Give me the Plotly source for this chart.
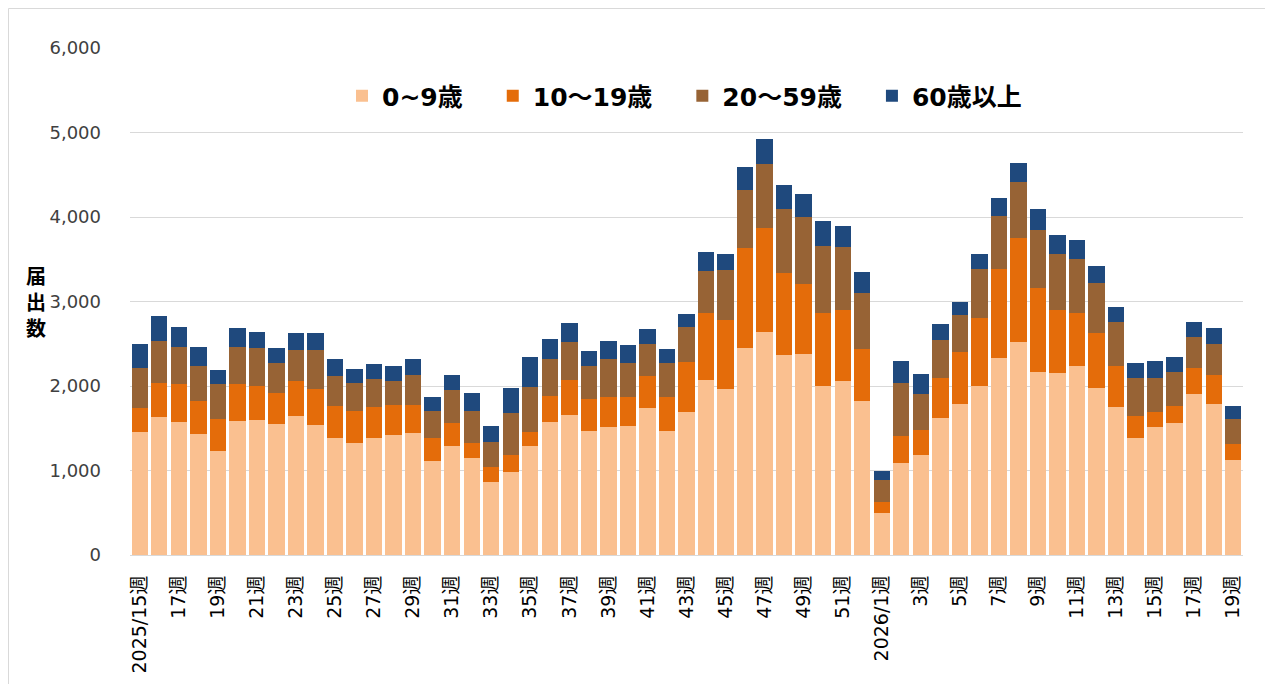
import plotly.graph_objects as go

# ---- data ----
weeks_2025 = list(range(15, 53))
weeks_2026 = list(range(1, 20))
categories = [f"2025/{w}週" for w in weeks_2025] + [f"2026/{w}週" for w in weeks_2026]

age_0_9 = [1456, 1637, 1578, 1428, 1231, 1590, 1598, 1550, 1645, 1542,
           1385, 1329, 1385, 1420, 1440, 1112, 1294, 1152, 864, 982,
           1290, 1578, 1661, 1467, 1515, 1530, 1743, 1467, 1688, 2075,
           1968, 2446, 2643, 2371, 2379, 2000, 2063, 1822,
           493, 1093, 1180, 1617, 1787, 2000, 2328, 2524, 2169, 2158,
           2240, 1980, 1755, 1385, 1511, 1566, 1905, 1783, 1121]
age_10_19 = [284, 399, 449, 394, 375, 437, 402, 367, 418, 426,
             378, 371, 366, 351, 331, 273, 264, 173, 181, 205,
             169, 307, 410, 379, 359, 344, 375, 407, 592, 793,
             813, 1187, 1223, 970, 832, 868, 833, 616,
             134, 319, 299, 478, 615, 805, 1053, 1231, 987, 738,
             628, 651, 478, 260, 181, 197, 308, 347, 196]
age_20_59 = [473, 497, 438, 418, 421, 438, 446, 351, 363, 458,
             355, 336, 332, 284, 359, 323, 395, 375, 289, 493,
             529, 435, 450, 387, 446, 402, 383, 394, 418, 493,
             592, 690, 765, 758, 785, 792, 753, 663,
             261, 624, 430, 453, 438, 576, 634, 663, 694, 670,
             631, 588, 521, 446, 399, 403, 367, 371, 289]
age_60_plus = [284, 299, 233, 218, 159, 221, 189, 178, 198, 198,
               198, 165, 177, 178, 186, 158, 173, 213, 189, 292,
               355, 236, 221, 185, 216, 205, 177, 166, 158, 225,
               186, 265, 292, 280, 272, 293, 244, 252,
               106, 264, 233, 190, 158, 178, 206, 217, 249, 217,
               225, 205, 184, 185, 205, 177, 174, 189, 157]

series_names = ["0~9歳", "10～19歳", "20～59歳", "60歳以上"]
series_values = [age_0_9, age_10_19, age_20_59, age_60_plus]
series_colors = ["#FAC090", "#E46C0A", "#976335", "#1F497D"]

year_first = {"2025/15週", "2026/1週"}
tick_vals = categories[::2]
tick_text = [c if c in year_first else c.split("/")[1] for c in tick_vals]

y_ticks = [0, 1000, 2000, 3000, 4000, 5000, 6000]
y_title = "届<br>出<br>数"

# ---- figure ----
fig = go.Figure()
pad = "\u3000"
for i, (name, vals, col) in enumerate(zip(series_names, series_values, series_colors)):
    label = name + (pad if i < len(series_names) - 1 else "")
    fig.add_trace(go.Bar(x=categories, y=vals, name=label,
                         marker=dict(color=col, line=dict(width=0))))

OFF = 8  # browser body margin
W, H = 1265, 676
L, T = 130 - OFF, 48 - OFF
R = W - (1243 - OFF)
B = H - (555 - OFF)
pw, ph = W - L - R, H - T - B


def px_x(x):
    return (x - OFF - L) / pw


def px_y(y):
    return (H - B - (y - OFF)) / ph


fig.update_layout(
    width=W, height=H,
    barmode="stack", bargap=0.16,
    plot_bgcolor="white", paper_bgcolor="white",
    margin=dict(l=L, r=R, t=T, b=B, autoexpand=False),
    font=dict(family="DejaVu Sans, Noto Sans CJK JP", color="#333333"),
    showlegend=True,
    legend=dict(orientation="h", x=px_x(342), xanchor="left",
                y=px_y(96), yanchor="middle",
                font=dict(family="DejaVu Sans, Noto Sans CJK JP", size=25, color="#000000",
                          weight="bold"),
                bgcolor="rgba(0,0,0,0)", itemwidth=30, traceorder="normal"),
    xaxis=dict(type="category", tickmode="array", tickvals=tick_vals, ticktext=tick_text,
               tickangle=-90, showgrid=False, showline=True, linecolor="#D9D9D9",
               linewidth=1, ticks="", ticklabelstandoff=12,
               tickfont=dict(family="DejaVu Sans, Noto Sans CJK JP", size=19, color="#000000")),
    yaxis=dict(range=[0, 6000], tickvals=y_ticks, tickformat=",", showgrid=True,
               gridcolor="#D9D9D9", gridwidth=1, zeroline=False, showline=False,
               ticks="", ticklabelstandoff=28,
               tickfont=dict(family="DejaVu Sans", size=18, color="#404040")),
    annotations=[dict(text=y_title, x=px_x(36), y=px_y(301), xref="paper", yref="paper",
                      xanchor="center", yanchor="middle", showarrow=False, align="center",
                      font=dict(family="Noto Sans CJK JP", size=20, color="#000000",
                                weight="bold"))],
    shapes=[dict(type="rect", xref="paper", yref="paper",
                 x0=px_x(8.5), x1=px_x(1270), y0=px_y(700), y1=px_y(8.5),
                 line=dict(color="#D9D9D9", width=1), fillcolor="rgba(0,0,0,0)", layer="above")],
)

fig.write_html("out.html")
